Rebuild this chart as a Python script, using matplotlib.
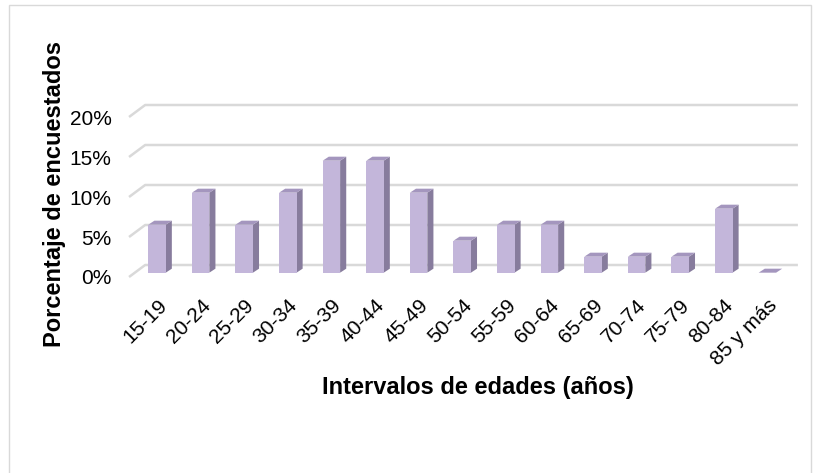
import matplotlib.pyplot as plt
from matplotlib.patches import Polygon, Rectangle

plt.rcParams['font.family'] = ['Liberation Sans', 'DejaVu Sans']

# datos
intervalos = ['15-19', '20-24', '25-29', '30-34', '35-39', '40-44', '45-49', '50-54',
              '55-59', '60-64', '65-69', '70-74', '75-79', '80-84', '85 y más']
porcentajes = [6, 10, 6, 10, 14, 14, 10, 4, 6, 6, 2, 2, 2, 8, 0]
ticks_y = [0, 5, 10, 15, 20]

# estilo pseudo-3D
ancho = 0.4
prof_x, prof_y = 0.14, 0.5      # profundidad de las barras
fondo_x, fondo_y = 0.37, 1.5    # desplazamiento de la pared del fondo
base = 0.54
c_frente, c_lado, c_tapa = '#C3B6DA', '#877C9D', '#A496BE'
c_grid = '#D9D9D9'

fig = plt.figure(figsize=(8.18, 4.73), dpi=100)
fig.patches.append(Rectangle((8.5 / 818, -0.1), (811 - 8.5) / 818, 1 - 5.5 / 473 + 0.1,
                             transform=fig.transFigure, fill=False, edgecolor='#D9D9D9', lw=1))
ax = fig.add_axes([120 / 818, (473 - 282) / 473, 680 / 818, 187 / 473])
ax.set_xlim(-0.849, 14.748)
ax.set_ylim(-0.625, 22.75)

# lineas de cuadricula (suelo y pared del fondo)
x_ini = -0.642
for v in ticks_y:
    ax.plot([x_ini, x_ini + fondo_x, 14.7], [v, v + fondo_y, v + fondo_y],
            color=c_grid, lw=1.8, solid_capstyle='butt', zorder=1)

# barras
for i, v in enumerate(porcentajes):
    x0, x1 = i - ancho / 2, i + ancho / 2
    y0, y1 = base, base + v
    ax.add_patch(Polygon([(x1, y0), (x1 + prof_x, y0 + prof_y), (x1 + prof_x, y1 + prof_y), (x1, y1)],
                         closed=True, facecolor=c_lado, edgecolor='none', zorder=3))
    ax.add_patch(Polygon([(x0, y1), (x1, y1), (x1 + prof_x, y1 + prof_y), (x0 + prof_x, y1 + prof_y)],
                         closed=True, facecolor=c_tapa, edgecolor='none', zorder=3))
    ax.add_patch(Rectangle((x0, y0), ancho, v, facecolor=c_frente, edgecolor='none', zorder=4))

ax.set_yticks(ticks_y)
ax.set_yticklabels([f'{t}%' for t in ticks_y], fontsize=15)
ax.set_xticks(range(len(intervalos)))
ax.set_xticklabels(intervalos, rotation=45, ha='right', va='top', rotation_mode='anchor', fontsize=15)
ax.tick_params(length=0)
ax.tick_params(axis='y', pad=6)
ax.tick_params(axis='x', pad=10)
for s in ax.spines.values():
    s.set_visible(False)

fig.text(478 / 818, 1 - 387 / 473, 'Intervalos de edades (años)', ha='center', va='center',
         fontsize=17, fontweight='bold')
fig.text(54 / 818, 1 - 194 / 473, 'Porcentaje de encuestados', ha='center', va='center',
         rotation=90, fontsize=17, fontweight='bold')

fig.savefig('out.png', dpi=100)
